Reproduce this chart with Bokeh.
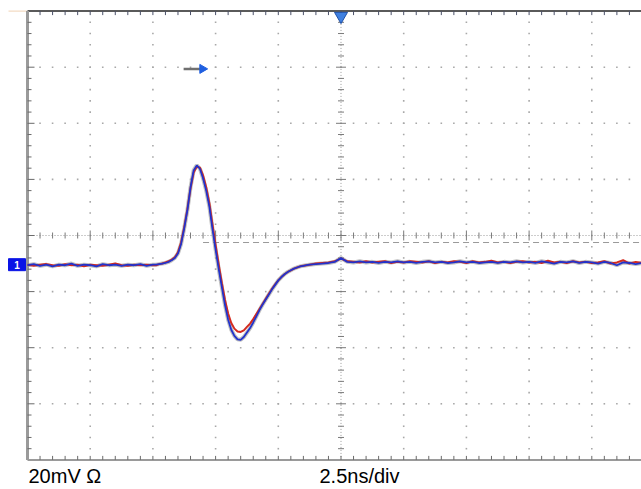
import numpy as np
from bokeh.plotting import figure
from bokeh.models import Range1d
from bokeh.embed import file_html
from bokeh.resources import INLINE
from bokeh.core.properties import value

# ---------------- data (divisions: time 0..10 div, volts -4..4 div) ----------------
time_div = [0.0, 0.1, 0.2, 0.3, 0.4, 0.5, 0.6, 0.7, 0.8, 0.9, 1.0, 1.1, 1.2, 1.3, 1.4,
            1.5, 1.6, 1.7, 1.8, 1.9, 2.0,
            2.05, 2.10, 2.15, 2.20, 2.25, 2.30, 2.35, 2.40, 2.45, 2.50, 2.55, 2.60, 2.65,
            2.70, 2.75, 2.80, 2.85, 2.90, 2.95, 3.00, 3.05, 3.10, 3.15, 3.20, 3.25, 3.30,
            3.35, 3.40, 3.45, 3.50, 3.55, 3.60, 3.65, 3.70, 3.75, 3.80, 3.85, 3.90, 3.95,
            4.00, 4.05, 4.10, 4.15, 4.20, 4.25, 4.30, 4.35, 4.40, 4.45, 4.50,
            4.6, 4.7, 4.8, 4.9, 5.0, 5.1, 5.2, 5.3, 5.4, 5.5, 5.6, 5.7, 5.8, 5.9, 6.0,
            6.1, 6.2, 6.3, 6.4, 6.5, 6.6, 6.7, 6.8, 6.9, 7.0, 7.1, 7.2, 7.3, 7.4, 7.5,
            7.6, 7.7, 7.8, 7.9, 8.0, 8.1, 8.2, 8.3, 8.4, 8.5, 8.6, 8.7, 8.8, 8.9, 9.0,
            9.1, 9.2, 9.3, 9.4, 9.5, 9.6, 9.7, 9.8]

blue_trace = [-0.53, -0.51, -0.54, -0.52, -0.55, -0.52, -0.53, -0.50, -0.54, -0.52, -0.53,
              -0.55, -0.51, -0.53, -0.52, -0.54, -0.52, -0.53, -0.51, -0.54, -0.52,
              -0.52, -0.51, -0.50, -0.49, -0.47, -0.44, -0.40, -0.32, -0.15, 0.13,
              0.45, 0.86, 1.16, 1.25, 1.19, 1.02, 0.80, 0.52, 0.12, -0.25,
              -0.60, -0.92, -1.24, -1.50, -1.68, -1.79, -1.85, -1.86, -1.81, -1.73,
              -1.65, -1.55, -1.44, -1.33, -1.23, -1.14, -1.05, -0.96, -0.88, -0.80,
              -0.74, -0.69, -0.65, -0.62, -0.59, -0.57, -0.55, -0.54, -0.53, -0.52,
              -0.51, -0.50, -0.49, -0.47, -0.40, -0.47, -0.48, -0.46, -0.48, -0.47,
              -0.49, -0.47, -0.48, -0.46, -0.48, -0.47, -0.49, -0.47, -0.46, -0.48,
              -0.47, -0.49, -0.48, -0.46, -0.48, -0.47, -0.49, -0.48, -0.47, -0.49,
              -0.47, -0.48, -0.46, -0.48, -0.47, -0.49, -0.46, -0.48, -0.50, -0.47,
              -0.48, -0.46, -0.49, -0.47, -0.48, -0.50, -0.47, -0.49, -0.53, -0.48,
              -0.49, -0.51, -0.49]

red_trace = [-0.52, -0.54, -0.52, -0.51, -0.53, -0.54, -0.51, -0.53, -0.52, -0.55, -0.52,
             -0.53, -0.54, -0.52, -0.50, -0.53, -0.54, -0.52, -0.53, -0.52, -0.53,
             -0.53, -0.51, -0.50, -0.48, -0.46, -0.43, -0.39, -0.30, -0.12, 0.15,
             0.47, 0.84, 1.12, 1.23, 1.21, 1.07, 0.86, 0.58, 0.20, -0.17,
             -0.52, -0.85, -1.15, -1.39, -1.56, -1.66, -1.71, -1.72, -1.69, -1.63,
             -1.57, -1.49, -1.40, -1.31, -1.22, -1.13, -1.04, -0.95, -0.87, -0.80,
             -0.74, -0.69, -0.65, -0.62, -0.59, -0.57, -0.55, -0.54, -0.53, -0.52,
             -0.50, -0.49, -0.48, -0.46, -0.41, -0.46, -0.47, -0.48, -0.46, -0.48,
             -0.47, -0.46, -0.49, -0.47, -0.48, -0.46, -0.47, -0.48, -0.46, -0.49,
             -0.47, -0.48, -0.46, -0.47, -0.49, -0.46, -0.48, -0.47, -0.45, -0.48,
             -0.47, -0.49, -0.47, -0.46, -0.48, -0.47, -0.49, -0.45, -0.48, -0.47,
             -0.49, -0.46, -0.48, -0.47, -0.49, -0.48, -0.46, -0.50, -0.48, -0.44,
             -0.50, -0.47, -0.49]

channel_label = "1"
volts_label = "20mV \u03a9"
time_label = "2.5ns/div"
cursor_level = -0.125     # dashed horizontal cursor (div)
cursor_start = 2.80
trigger_pos = 5.0
arrow_level = 2.97
ground_level = -0.52

# ---------------- geometry ----------------
XS = 62.7   # px per horizontal division
YS = 56.1   # px per vertical division
X0, X1 = -27 / XS, 614 / XS
Y1, Y0 = 235 / YS, (235 - 489) / YS
XR = X1

p = figure(width=641, height=489, x_range=Range1d(X0, X1), y_range=Range1d(Y0, Y1),
           output_backend="svg", toolbar_location=None, min_border=0,
           x_axis_location=None, y_axis_location=None, outline_line_color=None)
p.xgrid.visible = False
p.ygrid.visible = False
p.background_fill_color = "white"
p.border_fill_color = "white"

# dotted graticule
dx, dy = [], []
for k in range(1, 10):
    if k == 5:
        continue
    for j in range(-19, 20):
        dx.append(k); dy.append(j / 5)
for m in range(-3, 4):
    if m == 0:
        continue
    for j in range(1, 49):
        dx.append(j / 5); dy.append(m)
p.scatter(dx, dy, marker="square", size=1.6, fill_color="#a8a8a8", line_color=None)

# center lines with ticks
p.line([0, XR], [0, 0], line_color="#9a9a9a", line_width=1, line_dash="1 2")
p.line([5, 5], [-4, 4], line_color="#9a9a9a", line_width=1, line_dash="1 2")
hx, hy0, hy1 = [], [], []
for j in range(1, 49):
    L = 5 if j % 5 == 0 else 3
    hx.append(j / 5); hy0.append(-L / YS); hy1.append(L / YS)
p.segment(hx, hy0, hx, hy1, line_color="#7a7a7a", line_width=1)
vy, vx0, vx1 = [], [], []
for j in range(-19, 20):
    L = 5 if j % 5 == 0 else 3
    vy.append(j / 5); vx0.append(5 - L / XS); vx1.append(5 + L / XS)
p.segment(vx0, vy, vx1, vy, line_color="#7a7a7a", line_width=1)

# borders
p.line([X0 + 8 / XS, 0], [4, 4], line_color="#f0d2b4", line_width=1)
p.line([0, XR], [4, 4], line_color="#5a5a5a", line_width=2)
p.line([0, XR], [-4, -4], line_color="#9a9a9a", line_width=2)
p.line([0, 0], [-4, 4], line_color="#9a9a9a", line_width=3)

tx = [j / 5 for j in range(1, 49)]
p.segment(tx, [4] * len(tx), tx, [4 - 4 / YS] * len(tx), line_color="#4a5068", line_width=1)
p.segment(tx, [-4] * len(tx), tx, [-4 + 4 / YS] * len(tx), line_color="#6a6a6a", line_width=1)
ly = [j / 5 for j in range(-19, 20)]
lx1 = [(7 if j % 5 == 0 else 4) / XS for j in range(-19, 20)]
p.segment([0] * len(ly), ly, lx1, ly, line_color="#6a6a6a", line_width=1)

# dashed cursor
p.line([cursor_start, XR], [cursor_level, cursor_level], line_color="#9a9a9a",
       line_width=1, line_dash="6 4")

# traces
p.line(time_div, blue_trace, line_color="#8c8c8c", line_width=4, line_alpha=0.55)
p.line(time_div, red_trace, line_color="#d42a1e", line_width=2)
p.line(time_div, blue_trace, line_color="#2233cc", line_width=1.8)

# trigger marker
p.scatter([trigger_pos], [4 - 5 / YS], marker="inverted_triangle", size=13,
          fill_color="#3f80e0", line_color="#1d4fa8", line_width=1)

# arrow
p.line([2.49, 2.76], [arrow_level, arrow_level], line_color="#707070", line_width=2.5)
p.scatter([2.79], [arrow_level], marker="triangle", angle=-np.pi / 2, size=9,
          fill_color="#1f5fe0", line_color="#1f5fe0")

# channel marker
p.rect([(16.5 - 27) / XS], [ground_level], width=17 / XS, height=12 / YS,
       fill_color="#0a14e6", line_color="#0a14e6")
p.text([(16.5 - 27) / XS], [ground_level], text=[channel_label], text_color="white",
       text_font=value("Liberation Sans"), text_font_size="10px", text_font_style="bold",
       text_align="center", text_baseline="middle")

# bottom labels
label_y = (235 - 475) / YS
p.text([1 / XS], [label_y], text=[volts_label], text_color="black",
       text_font=value("Liberation Sans"), text_font_size="20px",
       text_align="left", text_baseline="middle")
p.text([(319 - 27) / XS], [label_y], text=[time_label], text_color="black",
       text_font=value("Liberation Sans"), text_font_size="20px",
       text_align="left", text_baseline="middle")

open("out.html", "w").write(file_html(p, INLINE))
